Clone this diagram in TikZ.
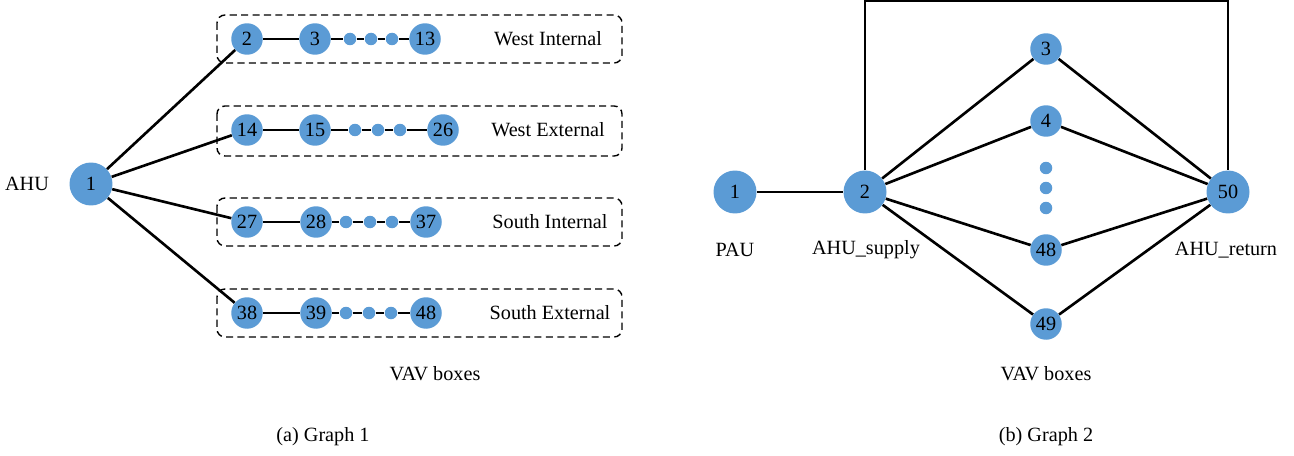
\documentclass[tikz,border=0pt]{standalone}
\usepackage{fontspec}
\setmainfont{Liberation Serif}
\usetikzlibrary{positioning}
\tikzset{>=stealth}
\definecolor{vavBlue}{HTML}{5B9BD5}
\colorlet{penColor}{black}
\tikzset{
  bignode/.style={circle,fill=vavBlue,inner sep=0pt,minimum size=0.86cm},
  vavnode/.style={circle,fill=vavBlue,inner sep=0pt,minimum size=0.63cm},
  vavdot/.style={circle,fill=vavBlue,inner sep=0pt,minimum size=0.25cm},
  link/.style={penColor,line width=1.5pt},
  zone/.style={penColor,line width=0.8pt,dash pattern=on 4pt off 2.5pt,rounded corners=4.5pt}
}

\begin{document}
\begin{tikzpicture}[x=0.02cm,y=-0.02cm,font=\fontsize{11.5}{13}\selectfont]
\useasboundingbox (0,0) rectangle (1294,456);
% (a) Graph 1
\draw[zone] (217,15) rectangle (622,63);
\draw[zone] (217,106) rectangle (622,156);
\draw[zone] (217,198) rectangle (622,246);
\draw[zone] (217,289) rectangle (622,337);
\node (ahulab) at (27,184) {AHU};
\node[bignode] (ahu) at (91,184) {1};
\node[vavnode] (wi2) at (247,39) {2};
\node[vavnode] (wi3) at (315,39) {3};
\node[vavdot] (wia) at (350,39) {};
\node[vavdot] (wib) at (371,39) {};
\node[vavdot] (wic) at (392,39) {};
\node[vavnode] (wi13) at (425,39) {13};
\node (wilab) at (548,39) {West Internal};
\node[vavnode] (we14) at (247,130) {14};
\node[vavnode] (we15) at (315,130) {15};
\node[vavdot] (wea) at (355,130) {};
\node[vavdot] (web) at (378,130) {};
\node[vavdot] (wec) at (400,130) {};
\node[vavnode] (we26) at (443,130) {26};
\node (welab) at (548,130) {West External};
\node[vavnode] (si27) at (247,222) {27};
\node[vavnode] (si28) at (316,222) {28};
\node[vavdot] (sia) at (346,222) {};
\node[vavdot] (sib) at (370,222) {};
\node[vavdot] (sic) at (392,222) {};
\node[vavnode] (si37) at (426,222) {37};
\node (silab) at (550,222) {South Internal};
\node[vavnode] (se38) at (247,313) {38};
\node[vavnode] (se39) at (316,313) {39};
\node[vavdot] (sea) at (346,313) {};
\node[vavdot] (seb) at (369,313) {};
\node[vavdot] (sec) at (391,313) {};
\node[vavnode] (se48) at (426,313) {48};
\node (selab) at (550,313) {South External};
\node (vava) at (435,374) {VAV boxes};
\node (capa) at (323,437) {(a) Graph 1};
\draw[link] (ahu) -- (wi2);
\draw[link] (ahu) -- (we14);
\draw[link] (ahu) -- (si27);
\draw[link] (ahu) -- (se38);
\draw[link] (wi2) -- (wi3) -- (wia) -- (wib) -- (wic) -- (wi13);
\draw[link] (we14) -- (we15) -- (wea) -- (web) -- (wec) -- (we26);
\draw[link] (si27) -- (si28) -- (sia) -- (sib) -- (sic) -- (si37);
\draw[link] (se38) -- (se39) -- (sea) -- (seb) -- (sec) -- (se48);
% (b) Graph 2
\node[bignode] (pau) at (735,192) {1};
\node[bignode] (sup) at (865,192) {2};
\node[bignode] (ret) at (1228,192) {50};
\node[vavnode] (v3) at (1046,49) {3};
\node[vavnode] (v4) at (1046,121) {4};
\node[vavdot] (va) at (1046,168) {};
\node[vavdot] (vb) at (1046,188) {};
\node[vavdot] (vc) at (1046,208) {};
\node[vavnode] (v48) at (1046,250) {48};
\node[vavnode] (v49) at (1046,324) {49};
\node (paulab) at (735,250) {PAU};
\node (suplab) at (866,250) {AHU\_supply};
\node (retlab) at (1226,250) {AHU\_return};
\node (vavb) at (1046,374) {VAV boxes};
\node (capb) at (1046,437) {(b) Graph 2};
\coordinate (top) at (1046,1);
\draw[link] (pau) -- (sup);
\draw[link] (sup.north) -- (sup.north |- top) -| (ret.north);
\foreach \v in {v3,v4,v48,v49}
  \draw[link] (sup) -- (\v) -- (ret);
\end{tikzpicture}
\end{document}
